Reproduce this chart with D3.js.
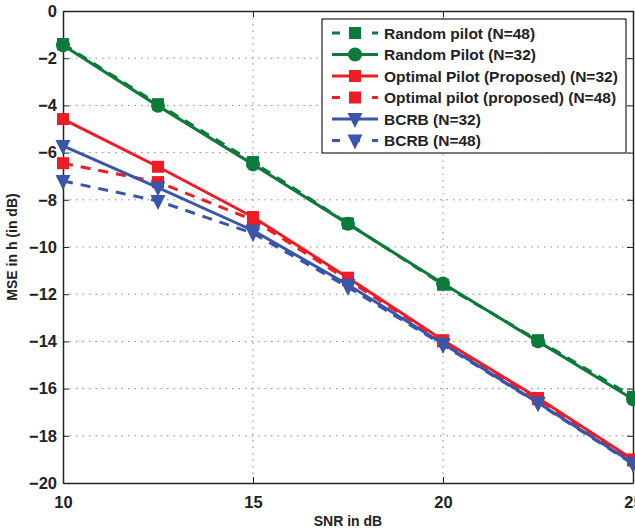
<!DOCTYPE html>
<html><head><meta charset="utf-8">
<script src="https://cdn.jsdelivr.net/npm/d3@7"></script>
<style>body{margin:0;background:#fff;}svg{display:block;font-family:"Liberation Sans",Arial,Helvetica,sans-serif;}</style>
</head><body><svg id="c" width="635" height="532"></svg>
<script>
const snr = [10, 12.5, 15, 17.5, 20, 22.5, 25];
const randomN48 = [-1.4, -3.95, -6.4, -9.0, -11.6, -13.95, -16.35];
const randomN32 = [-1.45, -4.02, -6.5, -9.02, -11.55, -14.0, -16.45];
const optimalN32 = [-4.58, -6.6, -8.73, -11.3, -13.95, -16.4, -19.0];
const optimalN48 = [-6.45, -7.25, -8.85, -11.4, -14.0, -16.45, -19.05];
const bcrbN32 = [-5.72, -7.48, -9.3, -11.6, -14.1, -16.6, -19.15];
const bcrbN48 = [-7.2, -8.05, -9.42, -11.7, -14.15, -16.62, -19.2];
const xTicks = [10, 15, 20, 25];
const yTicks = [0, -2, -4, -6, -8, -10, -12, -14, -16, -18, -20];

const series = [
  {name: "Random pilot (N=48)", values: randomN48, color: "#0b7a3a", dash: true, marker: "square"},
  {name: "Random Pilot (N=32)", values: randomN32, color: "#0b7a3a", dash: false, marker: "circle"},
  {name: "Optimal Pilot (Proposed) (N=32)", values: optimalN32, color: "#ee1c25", dash: false, marker: "square"},
  {name: "Optimal pilot (proposed) (N=48)", values: optimalN48, color: "#ee1c25", dash: true, marker: "square"},
  {name: "BCRB (N=32)", values: bcrbN32, color: "#3a56a8", dash: false, marker: "tri"},
  {name: "BCRB (N=48)", values: bcrbN48, color: "#3a56a8", dash: true, marker: "tri"}
];

const svg = d3.select("#c");
const L = 63, R = 633, T = 11, B = 483;
const x = d3.scaleLinear().domain([10, 25]).range([L, R]);
const y = d3.scaleLinear().domain([-20, 0]).range([B, T]);

// grid
const grid = svg.append("g");
grid.selectAll(".gx").data(xTicks.slice(1, -1)).join("line")
  .attr("x1", d => x(d)).attr("x2", d => x(d)).attr("y1", T).attr("y2", B)
  .attr("stroke", "#888").attr("stroke-width", 1).attr("stroke-dasharray", "1.5,5");
grid.selectAll(".gy").data(yTicks.slice(1, -1)).join("line")
  .attr("y1", d => y(d)).attr("y2", d => y(d)).attr("x1", L).attr("x2", R)
  .attr("stroke", "#888").attr("stroke-width", 1).attr("stroke-dasharray", "1.5,5");

// axes
const fmt = d => d < 0 ? "\u2212" + Math.abs(d) : String(d);
const ax = svg.append("g").attr("transform", `translate(0,${B})`)
  .call(d3.axisBottom(x).tickValues(xTicks).tickFormat(fmt).tickSizeInner(-6).tickSizeOuter(0).tickPadding(10));
const ay = svg.append("g").attr("transform", `translate(${L},0)`)
  .call(d3.axisLeft(y).tickValues(yTicks).tickFormat(fmt).tickSizeInner(-6).tickSizeOuter(0).tickPadding(6));
svg.append("g").attr("transform", `translate(0,${T})`)
  .call(d3.axisTop(x).tickValues(xTicks).tickFormat("").tickSizeInner(-6).tickSizeOuter(0));
svg.append("g").attr("transform", `translate(${R},0)`)
  .call(d3.axisRight(y).tickValues(yTicks).tickFormat("").tickSizeInner(-6).tickSizeOuter(0));
svg.selectAll(".domain").attr("stroke", "#222").attr("stroke-width", 1.5);
svg.selectAll(".tick line").attr("stroke", "#222").attr("stroke-width", 1);
svg.selectAll(".tick text").attr("font-size", 16.5).attr("font-weight", "bold").attr("fill", "#222")
  .attr("font-family", "'Liberation Sans',Arial,sans-serif");
ax.selectAll(".tick text").attr("dy", "0.9em");

// lines
const line = d3.line().x((d, i) => x(snr[i])).y(d => y(d));
function marker(g, type, color, cx, cy) {
  if (type === "square") {
    g.append("rect").attr("x", cx - 6).attr("y", cy - 6).attr("width", 12).attr("height", 12).attr("fill", color);
  } else if (type === "circle") {
    g.append("circle").attr("cx", cx).attr("cy", cy).attr("r", 7).attr("fill", color);
  } else {
    g.append("path").attr("d", `M${cx - 7.5},${cy - 6} L${cx + 7.5},${cy - 6} L${cx},${cy + 9} Z`).attr("fill", color);
  }
}
const plot = svg.append("g");
series.forEach(s => {
  plot.append("path").datum(s.values).attr("d", line).attr("fill", "none")
    .attr("stroke", s.color).attr("stroke-width", 3)
    .attr("stroke-dasharray", s.dash ? "10,8" : null);
  const mg = plot.append("g");
  s.values.forEach((v, i) => marker(mg, s.marker, s.color, x(snr[i]), y(v)));
});

// legend
const lg = svg.append("g");
lg.append("rect").attr("x", 322).attr("y", 19).attr("width", 304).attr("height", 134)
  .attr("fill", "#fff").attr("stroke", "#222").attr("stroke-width", 1.2);
series.forEach((s, i) => {
  const yy = 33 + i * 21.5;
  lg.append("line").attr("x1", 332).attr("x2", 378).attr("y1", yy).attr("y2", yy)
    .attr("stroke", s.color).attr("stroke-width", 3).attr("stroke-dasharray", s.dash ? "8,12" : null);
  marker(lg, s.marker, s.color, 355, yy);
  lg.append("text").attr("x", 384).attr("y", yy).attr("dy", "0.36em")
    .attr("font-size", 15.5).attr("font-weight", "bold").attr("fill", "#222").text(s.name);
});

// axis labels
svg.append("text").attr("x", x(17.5)).attr("y", 526).attr("text-anchor", "middle")
  .attr("font-size", 14).attr("font-weight", "bold").attr("fill", "#222").text("SNR in dB");
svg.append("text").attr("transform", `translate(17,${(T + B) / 2}) rotate(-90)`).attr("text-anchor", "middle")
  .attr("font-size", 14).attr("font-weight", "bold").attr("fill", "#222").text("MSE in h (in dB)");
</script></body></html>
